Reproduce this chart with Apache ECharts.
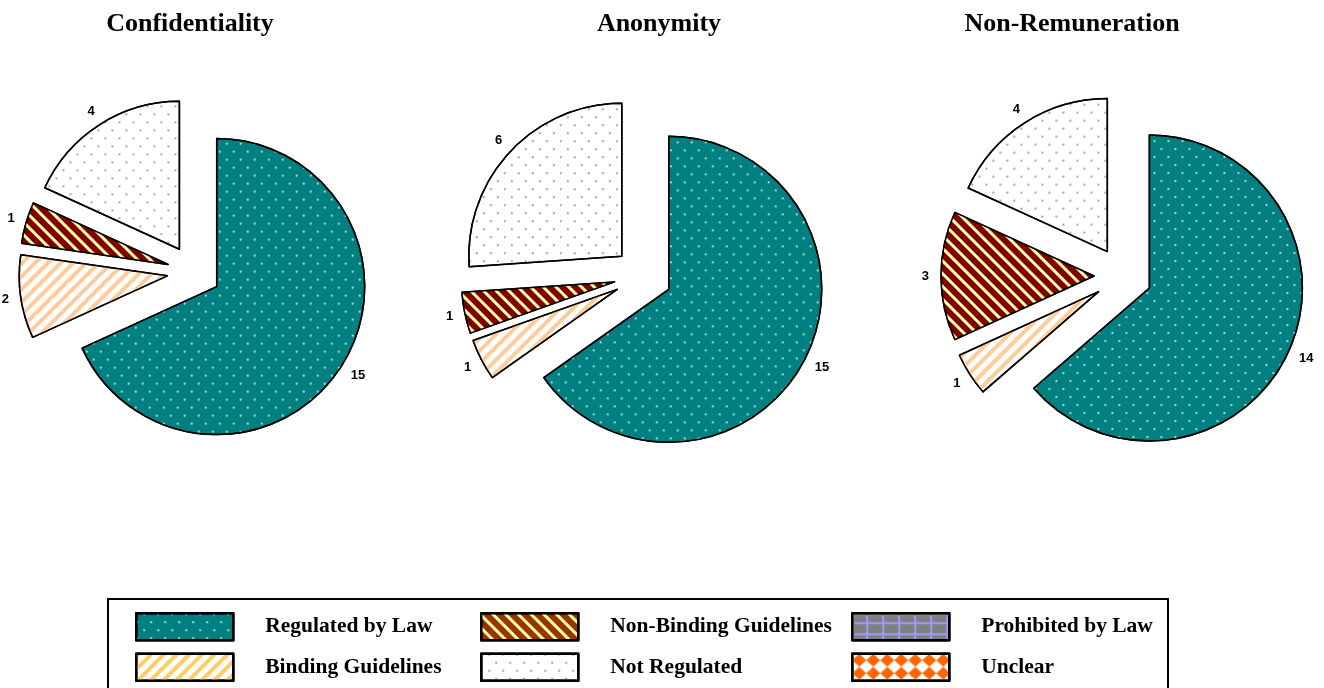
<!DOCTYPE html>
<html>
<head>
<meta charset="utf-8">
<script src="https://cdn.jsdelivr.net/npm/echarts@6/dist/echarts.min.js"></script>
<style>
  html, body { margin: 0; padding: 0; background: #fff; }
  #chart { width: 1324px; height: 688px; }
</style>
</head>
<body>
<div id="chart"></div>
<script>
// Regulation categories, drawn clockwise from 12 o'clock
const categories = [
  'Regulated by Law',
  'Binding Guidelines',
  'Non-Binding Guidelines',
  'Not Regulated',
  'Prohibited by Law',
  'Unclear'
];
const chartTitles = ['Confidentiality', 'Anonymity', 'Non-Remuneration'];

// Counts per category for each aspect
const confidentialityValues = [15, 2, 1, 4, 0, 0];
const anonymityValues = [15, 1, 1, 6, 0, 0];
const nonRemunerationValues = [14, 1, 3, 4, 0, 0];
const seriesValues = [confidentialityValues, anonymityValues, nonRemunerationValues];

// Legend columns (top-to-bottom)
const legendColumns = [
  ['Regulated by Law', 'Binding Guidelines'],
  ['Non-Binding Guidelines', 'Not Regulated'],
  ['Prohibited by Law', 'Unclear']
];

const dotsA = [[2, 12], [0, 7, 2, 5]];
const styles = {
  'Regulated by Law': {
    color: '#008080',
    decal: { symbol: 'circle', symbolSize: 1, color: 'rgba(255,255,255,0.9)', dashArrayX: dotsA, dashArrayY: [2, 6] }
  },
  'Binding Guidelines': {
    color: '#ffffff',
    decal: { symbol: 'rect', symbolSize: 1, color: '#FFCC99', dashArrayX: [1, 0], dashArrayY: [4, 5], rotation: -Math.PI / 4 }
  },
  'Non-Binding Guidelines': {
    color: '#800000',
    decal: { symbol: 'rect', symbolSize: 1, color: '#FFFFAA', dashArrayX: [1, 0], dashArrayY: [3, 6], rotation: Math.PI / 4 }
  },
  'Not Regulated': {
    color: '#ffffff',
    decal: { symbol: 'circle', symbolSize: 1, color: '#8a8a8a', dashArrayX: dotsA, dashArrayY: [2, 6] }
  },
  'Prohibited by Law': {
    color: '#9999FF',
    decal: { symbol: 'rect', symbolSize: 1, color: '#808080', dashArrayX: [14, 2], dashArrayY: [9, 2] }
  },
  'Unclear': {
    color: '#ffffff',
    decal: { symbol: 'diamond', symbolSize: 1, color: '#FF6600', dashArrayX: [14, 0], dashArrayY: [13, 0] }
  }
};

// Legend swatches use slightly different tones for two categories
const legendOverrides = {
  'Binding Guidelines': {
    decal: { symbol: 'rect', symbolSize: 1, color: '#FFCC66', dashArrayX: [1, 0], dashArrayY: [4, 5], rotation: -Math.PI / 4 }
  },
  'Non-Binding Guidelines': {
    color: '#993300',
    decal: { symbol: 'rect', symbolSize: 1, color: '#FFFFAA', dashArrayX: [1, 0], dashArrayY: [3, 6], rotation: Math.PI / 4 }
  }
};

const pieCenters = [[194, 272], [643, 276], [1123, 276]];
const pieRadii = [148, 153, 153];
const pieOffsets = [27, 29, 29];
const titleCenters = [190, 659, 1072];

const series = seriesValues.map(function (vals, i) {
  return {
    type: 'pie',
    name: chartTitles[i],
    center: pieCenters[i],
    radius: pieRadii[i],
    startAngle: 90,
    clockwise: true,
    selectedMode: 'multiple',
    selectedOffset: pieOffsets[i],
    avoidLabelOverlap: false,
    animation: false,
    emphasis: { disabled: true },
    label: {
      show: true,
      position: 'outside',
      formatter: '{c}',
      color: '#000',
      fontFamily: 'Liberation Sans, Arial, sans-serif',
      fontWeight: 'bold',
      fontSize: 13,
      distanceToLabelLine: -4
    },
    labelLine: { show: false, length: 16, length2: 0 },
    itemStyle: { borderColor: '#000', borderWidth: 1.5 },
    data: categories.map(function (name, k) {
      const item = {
        name: name,
        value: vals[k],
        selected: vals[k] > 0,
        itemStyle: {
          color: styles[name].color,
          decal: styles[name].decal
        }
      };
      if (vals[k] === 0) {
        item.itemStyle.borderWidth = 0;
        item.label = { show: false };
        item.labelLine = { show: false };
      }
      return item;
    })
  };
});

const legendLefts = [135, 480, 851];
const legends = legendColumns.map(function (col, i) {
  return {
    orient: 'vertical',
    left: legendLefts[i],
    top: 612,
    padding: 0,
    itemWidth: 97,
    itemHeight: 27,
    itemGap: 11,
    icon: 'rect',
    selectedMode: false,
    itemStyle: { borderColor: '#000', borderWidth: 2.5 },
    textStyle: {
      fontFamily: 'Liberation Serif, Times New Roman, serif',
      fontWeight: 'bold',
      fontSize: 21.5,
      color: '#000',
      padding: [3, 0, 0, 27]
    },
    data: col.map(function (name) {
      const d = { name: name };
      if (legendOverrides[name]) d.itemStyle = legendOverrides[name];
      return d;
    })
  };
});

const titles = chartTitles.map(function (t, i) {
  return {
    text: t,
    left: titleCenters[i],
    top: 11,
    padding: 0,
    textAlign: 'center',
    textStyle: {
      fontFamily: 'Liberation Serif, Times New Roman, serif',
      fontWeight: 'bold',
      fontSize: 26,
      color: '#000'
    }
  };
});

const chart = echarts.init(document.getElementById('chart'));
chart.setOption({
  backgroundColor: '#fff',
  animation: false,
  title: titles,
  legend: legends,
  graphic: [{
    type: 'rect',
    z: -1,
    shape: { x: 108, y: 599, width: 1060, height: 100 },
    style: { fill: 'none', stroke: '#000', lineWidth: 2 }
  }],
  series: series
});
</script>
</body>
</html>
